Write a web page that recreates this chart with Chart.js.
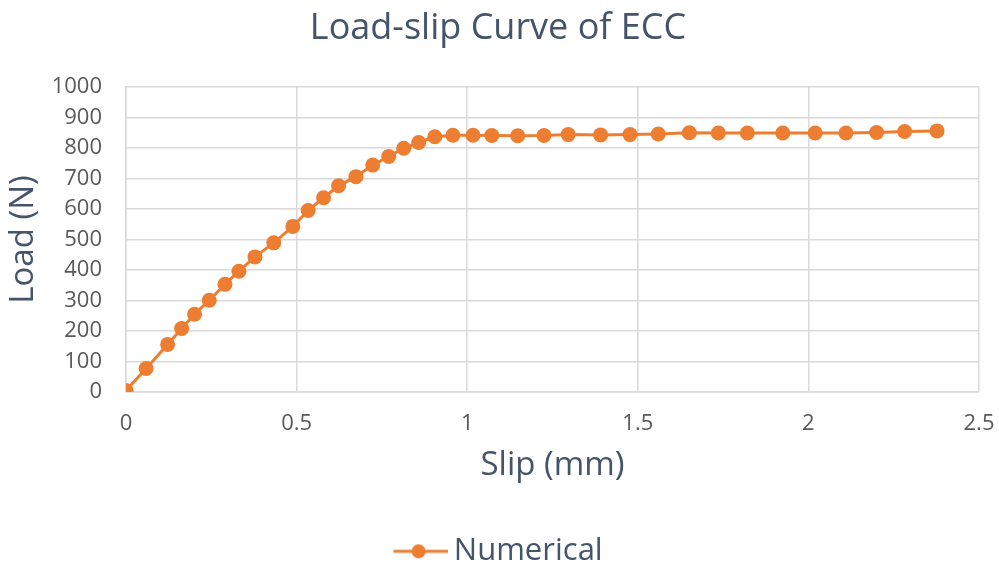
<!DOCTYPE html>
<html>
<head>
<meta charset="utf-8">
<script src="https://cdn.jsdelivr.net/npm/chart.js@4"></script>
<style>
  html, body { margin: 0; padding: 0; background: #ffffff; }
  canvas { display: block; }
</style>
</head>
<body>
<canvas id="c" width="999" height="568"></canvas>
<script>
const chartTitle = 'Load-slip Curve of ECC';
const xAxisTitle = 'Slip (mm)';
const yAxisTitle = 'Load (N)';
const seriesName = 'Numerical';

const slip = [0, 0.059, 0.122, 0.163, 0.201, 0.244, 0.290, 0.331, 0.378, 0.433,
  0.489, 0.534, 0.579, 0.623, 0.674, 0.723, 0.770, 0.814, 0.858, 0.905,
  0.958, 1.017, 1.072, 1.148, 1.225, 1.296, 1.391, 1.477, 1.560, 1.651,
  1.736, 1.821, 1.925, 2.020, 2.110, 2.200, 2.282, 2.377];
const load = [5, 77, 156, 208, 255, 301, 353, 396, 443, 489,
  543, 595, 637, 676, 706, 744, 772, 799, 818, 837,
  842, 842, 841, 840, 841, 844, 843, 844, 846, 850,
  849, 849, 849, 849, 849, 851, 854, 856];

const xTickValues = [0, 0.5, 1, 1.5, 2, 2.5];
const xTickLabels = ['0', '0.5', '1', '1.5', '2', '2.5'];
const yTickValues = [0, 100, 200, 300, 400, 500, 600, 700, 800, 900, 1000];
const yTickLabels = ['0', '100', '200', '300', '400', '500', '600', '700', '800', '900', '1000'];

const orange = '#ed7d31';
const slate = '#44546a';
const tickGray = '#595959';
const gridGray = '#d9d9d9';
const FONT = "'Open Sans', sans-serif";

// legend marker: line with a dot
const marker = document.createElement('canvas');
marker.width = 64; marker.height = 18;
(function () {
  const g = marker.getContext('2d');
  g.strokeStyle = orange; g.lineWidth = 3;
  g.beginPath(); g.moveTo(9.5, 9); g.lineTo(64, 9); g.stroke();
  g.fillStyle = orange;
  g.beginPath(); g.arc(34.75, 9, 7, 0, Math.PI * 2); g.fill();
})();

const points = slip.map((s, i) => ({ x: s, y: load[i] }));

new Chart(document.getElementById('c'), {
  type: 'line',
  data: {
    datasets: [{
      label: seriesName,
      data: points,
      borderColor: orange,
      backgroundColor: orange,
      borderWidth: 3,
      pointRadius: 7.5,
      pointHoverRadius: 7.5,
      pointBorderWidth: 0,
      pointBackgroundColor: orange,
      tension: 0,
      fill: false
    }]
  },
  options: {
    responsive: false,
    animation: false,
    layout: { padding: { left: 17, right: 20, top: 0, bottom: -8.8 } },
    plugins: {
      title: {
        display: true,
        text: chartTitle,
        color: slate,
        font: { family: FONT, size: 36, weight: 'normal' },
        padding: { top: 6.7, bottom: 37.1 }
      },
      legend: {
        display: true,
        position: 'bottom',
        labels: {
          usePointStyle: true,
          pointStyleWidth: 45,
          padding: 50,
          color: slate,
          font: { family: FONT, size: 31 },
          generateLabels: (chart) => {
            const items = Chart.defaults.plugins.legend.labels.generateLabels(chart);
            items.forEach(it => { it.pointStyle = marker; it.fontColor = slate; });
            return items;
          }
        }
      },
      tooltip: { enabled: false }
    },
    scales: {
      x: {
        type: 'linear',
        min: 0, max: 2.5,
        afterBuildTicks: (axis) => { axis.ticks = xTickValues.map(v => ({ value: v })); },
        afterFit: (axis) => { axis.height = 93.8; },
        ticks: {
          color: tickGray,
          font: { family: FONT, size: 22 },
          padding: 0,
          maxRotation: 0,
          callback: (v) => { const i = xTickValues.indexOf(v); return i >= 0 ? xTickLabels[i] : ''; }
        },
        grid: { color: gridGray, lineWidth: 1.5, drawTicks: true, tickLength: 19, tickColor: 'rgba(0,0,0,0)' },
        border: { display: true, color: gridGray, width: 1.5 },
        title: {
          display: true,
          text: xAxisTitle,
          color: slate,
          font: { family: FONT, size: 33 },
          padding: { top: 0, bottom: 0 }
        }
      },
      y: {
        min: 0, max: 1000,
        afterBuildTicks: (axis) => { axis.ticks = yTickValues.map(v => ({ value: v })); },
        afterFit: (axis) => { axis.width = 109; },
        ticks: {
          color: tickGray,
          font: { family: FONT, size: 22 },
          padding: 24,
          callback: (v) => { const i = yTickValues.indexOf(v); return i >= 0 ? yTickLabels[i] : ''; }
        },
        grid: { color: gridGray, lineWidth: 1.5, drawTicks: false },
        border: { display: true, color: gridGray, width: 1.5 },
        title: {
          display: true,
          text: yAxisTitle,
          color: slate,
          font: { family: FONT, size: 33 },
          padding: { top: -12.9, bottom: 0 }
        }
      }
    }
  }
});
</script>
</body>
</html>
